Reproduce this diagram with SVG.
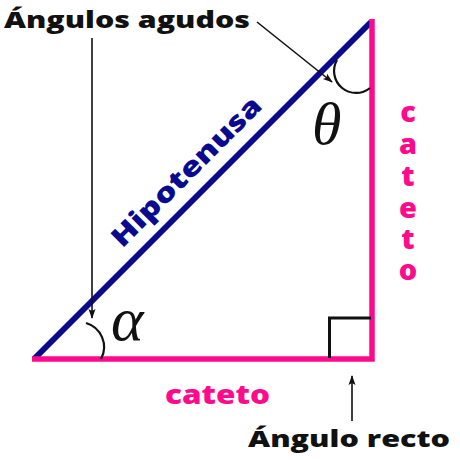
<svg xmlns="http://www.w3.org/2000/svg" width="460" height="460" viewBox="0 0 460 460">
<defs>
<marker id="ah" viewBox="0 0 10 10" refX="9" refY="5" markerWidth="10" markerHeight="10" markerUnits="userSpaceOnUse" orient="auto">
<path d="M0,1.5 L10,5 L0,8.5 L2,5 Z" fill="#111"/>
</marker>
<style>
.lbl{font-family:"Open Sans","Noto Sans","Liberation Sans",sans-serif;font-weight:800;fill:#111}
.pink{font-family:"Open Sans","Noto Sans","Liberation Sans",sans-serif;font-weight:800;fill:#ff0a8c}
.hyp{font-family:"Open Sans","Noto Sans","Liberation Sans",sans-serif;font-weight:800;fill:#0a0a91}
.greek{font-family:"Liberation Serif","DejaVu Serif",serif;font-style:italic;fill:#111}
.arr{stroke:#111;stroke-width:1.6;fill:none;marker-end:url(#ah)}
.ang{stroke:#111;stroke-width:2.2;fill:none}
</style>
</defs>
<rect width="460" height="460" fill="#fff"/>
<g id="triangle">
<line x1="34" y1="359" x2="371" y2="22" stroke="#0a0a91" stroke-width="6"/>
<path d="M372,19 V359 H32" stroke="#ff0a8c" stroke-width="5.5" fill="none"/>
<path d="M329.5,358 V318 H371" stroke="#111" stroke-width="3" fill="none"/>
</g>
<g id="angles">
<path class="ang" d="M86,323 A25,25 0 0 1 101,359"/>
<path class="ang" d="M337,60 A22,22 0 0 0 370,88"/>
<text class="greek" x="111" y="340" font-size="62">α</text>
<text class="greek" x="312" y="144" font-size="60">θ</text>
</g>
<g id="connectors">
<line class="arr" x1="92" y1="38" x2="92" y2="318"/>
<line class="arr" x1="257" y1="22" x2="332" y2="82"/>
<line class="arr" x1="352" y1="421" x2="352" y2="376"/>
</g>
<g id="labels">
<text class="lbl" x="4" y="28" font-size="23" textLength="246" lengthAdjust="spacingAndGlyphs">Ángulos agudos</text>
<text class="lbl" x="248" y="447" font-size="23" textLength="202" lengthAdjust="spacingAndGlyphs">Ángulo recto</text>
<text class="pink" x="165" y="404" font-size="26" textLength="105" lengthAdjust="spacingAndGlyphs">cateto</text>
<g class="pink" font-size="29" text-anchor="middle">
<text x="408" y="122">c</text>
<text x="408" y="154">a</text>
<text x="408" y="186">t</text>
<text x="408" y="218">e</text>
<text x="408" y="249">t</text>
<text x="408" y="280">o</text>
</g>
<text class="hyp" font-size="27" text-anchor="middle" transform="translate(193,178) rotate(-45)" textLength="200" lengthAdjust="spacingAndGlyphs">Hipotenusa</text>
</g>
</svg>
